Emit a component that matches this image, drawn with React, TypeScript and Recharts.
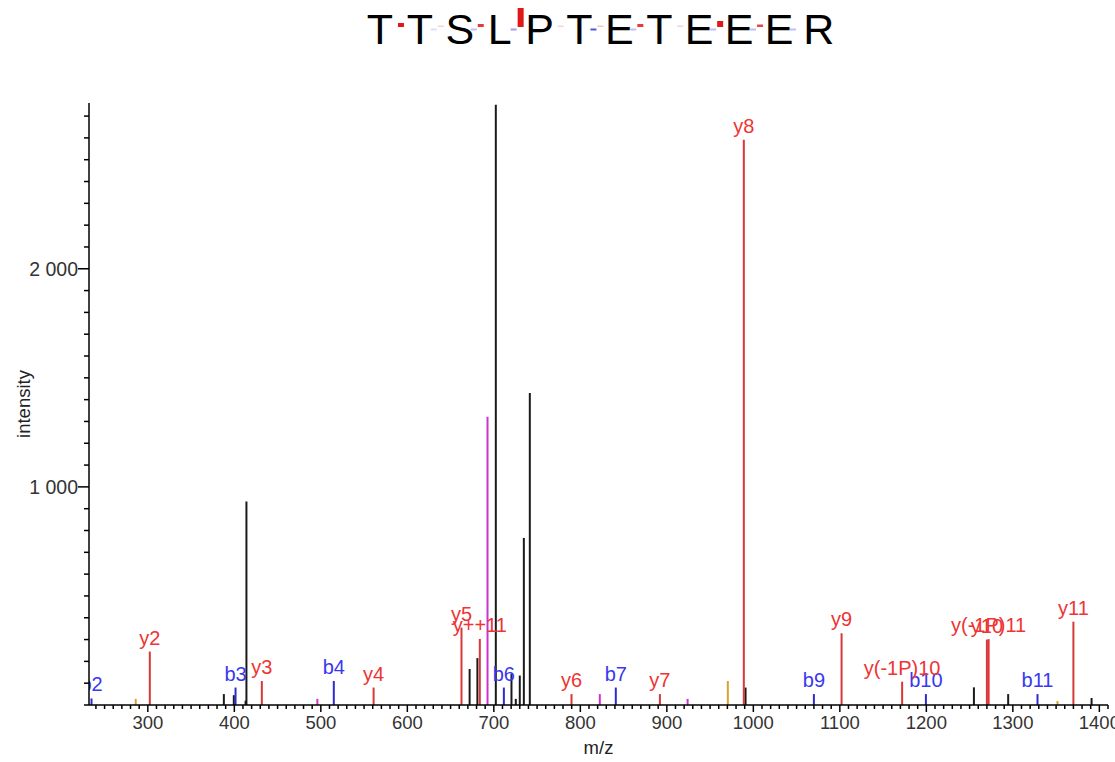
import { ComposedChart, XAxis, YAxis, Scatter, ReferenceLine, Label } from 'recharts';

// peptide + fragment coverage marks (one entry per gap between residues)
const sequence = ['T', 'T', 'S', 'L', 'P', 'T', 'E', 'T', 'E', 'E', 'E', 'R'];
const bMarkOpacity = [0, 0.15, 0.3, 0.45, 0, 0.8, 0.3, 0, 0.3, 0.3, 0.3];
const yMarkHeight = [4, 1.5, 3, 19, 1.5, 1.5, 3, 1.5, 6, 2.5, 0];
const yMarkOpacity = [1, 0.2, 0.85, 1, 0.2, 0.25, 0.85, 0.2, 1, 0.8, 0];

// b ions
const bMz = [234.9, 401.4, 515, 711.6, 841, 1070, 1199.5, 1328.5];
const bIntensity = [30, 80, 110, 80, 80, 50, 50, 50];
const bLabels = ['b2', 'b3', 'b4', 'b6', 'b7', 'b9', 'b10', 'b11'];

// y ions
const yMz = [302.3, 431.8, 561, 662.6, 683.8, 789.8, 892, 989, 1102, 1172, 1270, 1272, 1370];
const yIntensity = [245, 110, 80, 355, 303, 50, 50, 2592, 329, 107, 300, 302, 382];
const yLabels = ['y2', 'y3', 'y4', 'y5', 'y++11', 'y6', 'y7', 'y8', 'y9', 'y(-1P)10', 'y10', 'y(-1P)11', 'y11'];

// unassigned / other peaks
const otherMz = [286, 387.9, 399.4, 413, 414, 496, 672, 681, 692.7, 702.3, 720.4, 725.4, 730, 734.7, 741.6, 822.5, 924, 970.5, 991, 1255, 1294.6, 1351.6, 1391];
const otherIntensity = [28, 50, 45, 20, 933, 28, 165, 215, 1321, 2752, 142, 28, 135, 766, 1431, 50, 28, 110, 80, 81, 50, 18, 32];
const otherKind = ['orange', 'noise', 'noise', 'noise', 'noise', 'magenta', 'noise', 'noise', 'magenta', 'noise', 'noise', 'noise', 'noise', 'noise', 'noise', 'magenta', 'magenta', 'orange', 'noise', 'noise', 'noise', 'orange', 'noise'];

const xMajorTicks = [300, 400, 500, 600, 700, 800, 900, 1000, 1100, 1200, 1300, 1400];
const yMajorTicks = [1000, 2000];

const xTicks = Array.from({ length: 118 }, (_, i) => 240 + i * 10);
const yTicks = Array.from({ length: 28 }, (_, i) => i * 100);

const stickColor: Record<string, string> = {
  b: '#2b2bd0',
  y: '#d83838',
  noise: '#1a1a1a',
  magenta: '#cc33cc',
  orange: '#d8a030',
};
const labelColor: Record<string, string> = { b: '#3838f0', y: '#ee3434' };

type Peak = { mz: number; intensity: number; kind: string; label?: string };

const peaks: Peak[] = [
  ...otherMz.map((mz, i) => ({ mz, intensity: otherIntensity[i], kind: otherKind[i] })),
  ...bMz.map((mz, i) => ({ mz, intensity: bIntensity[i], kind: 'b', label: bLabels[i] })),
  ...yMz.map((mz, i) => ({ mz, intensity: yIntensity[i], kind: 'y', label: yLabels[i] })),
];

const FONT = '"Liberation Sans", Arial, sans-serif';
const Y_AXIS_WIDTH = 89;

function formatThousands(v: number) {
  return `${Math.floor(v / 1000)} ${String(v % 1000).padStart(3, '0')}`;
}

function XTick({ x, y, payload }: any) {
  const major = xMajorTicks.includes(payload.value);
  return (
    <g>
      <line x1={x} y1={y} x2={x} y2={y + (major ? 7 : 4)} stroke="#000" strokeWidth={1.5} />
      {major && (
        <text x={x} y={y + 24} textAnchor="middle" fontSize={18.5} fill="#333" fontFamily={FONT}>
          {payload.value}
        </text>
      )}
    </g>
  );
}

function YTick({ x, y, payload }: any) {
  const major = yMajorTicks.includes(payload.value);
  return (
    <g>
      <line x1={x} y1={y} x2={x - (major ? 11 : 5)} y2={y} stroke="#000" strokeWidth={1.5} />
      {major && (
        <text x={x - 11} y={y} dy="0.36em" textAnchor="end" fontSize={19.5} fill="#333" fontFamily={FONT}>
          {formatThousands(payload.value)}
        </text>
      )}
    </g>
  );
}

function YAxisTitle(props: any) {
  const vb = props.viewBox || { x: 0, y: 103, width: Y_AXIS_WIDTH, height: 602 };
  const cx = vb.x + 23;
  const cy = vb.y + vb.height / 2;
  return (
    <text x={cx} y={cy} transform={`rotate(-90 ${cx} ${cy})`} textAnchor="middle" dy="0.36em" fontSize={18.5} fill="#222" fontFamily={FONT}>
      intensity
    </text>
  );
}

// peak annotation, clipped at the left edge of the plot like the original
function PeakLabel({ viewBox, value, fill, id }: any) {
  if (!viewBox) return null;
  const cx = viewBox.x + (viewBox.width || 0) / 2;
  const clipId = `peak-label-clip-${id}`;
  return (
    <g>
      <defs>
        <clipPath id={clipId}>
          <rect x={Y_AXIS_WIDTH} y={0} width={1115} height={762} />
        </clipPath>
      </defs>
      <text x={cx} y={viewBox.y - 7} textAnchor="middle" fontSize={20} fill={fill} fontFamily={FONT} clipPath={`url(#${clipId})`}>
        {value}
      </text>
    </g>
  );
}

function SequenceTitle() {
  const start = 380;
  const pitch = 39.9;
  return (
    <svg width={1115} height={60} style={{ position: 'absolute', left: 0, top: 0 }}>
      {sequence.map((aa, i) => (
        <text key={i} x={start + i * pitch} y={44} textAnchor="middle" fontSize={43} fontFamily={FONT} fill="#000">
          {aa}
        </text>
      ))}
      {bMarkOpacity.map((op, i) => {
        const gx = start + (i + 0.5) * pitch;
        return (
          <g key={i}>
            {op > 0 && <rect x={gx - 9} y={28.5} width={6} height={2} fill="#2b2bd0" opacity={op} />}
            {yMarkHeight[i] > 0 && (
              <rect x={gx - 2} y={27 - yMarkHeight[i]} width={6} height={yMarkHeight[i]} fill="#e01818" opacity={yMarkOpacity[i]} />
            )}
          </g>
        );
      })}
    </svg>
  );
}

export default function App() {
  return (
    <div style={{ position: 'absolute', left: 0, top: 0, width: 1115, height: 762, background: '#fff', fontFamily: FONT }}>
      <SequenceTitle />
      <ComposedChart width={1115} height={762} data={peaks} margin={{ top: 103, right: 7, bottom: 2, left: 0 }}>
        <XAxis
          type="number"
          dataKey="mz"
          domain={[232, 1410]}
          allowDataOverflow
          ticks={xTicks}
          interval={0}
          tickSize={0}
          tickMargin={0}
          tickLine={false}
          tick={<XTick />}
          axisLine={{ stroke: '#000', strokeWidth: 1.5 }}
          height={55}
        >
          <Label value="m/z" position="insideBottom" offset={6} fontSize={18.5} fill="#222" fontFamily={FONT} />
        </XAxis>
        <YAxis
          type="number"
          dataKey="intensity"
          domain={[0, 2760]}
          allowDataOverflow
          ticks={yTicks}
          interval={0}
          tickSize={0}
          tickMargin={0}
          tickLine={false}
          tick={<YTick />}
          axisLine={{ stroke: '#000', strokeWidth: 1.5 }}
          width={Y_AXIS_WIDTH}
        >
          <Label content={<YAxisTitle />} />
        </YAxis>
        <Scatter dataKey="intensity" isAnimationActive={false} shape={() => <g />} legendType="none" />
        {peaks.map((p, i) => (
          <ReferenceLine
            key={i}
            segment={[
              { x: p.mz, y: 0 },
              { x: p.mz, y: p.intensity },
            ]}
            stroke={stickColor[p.kind]}
            strokeWidth={2}
            label={p.label ? <PeakLabel value={p.label} fill={labelColor[p.kind]} id={i} /> : undefined}
          />
        ))}
      </ComposedChart>
    </div>
  );
}
